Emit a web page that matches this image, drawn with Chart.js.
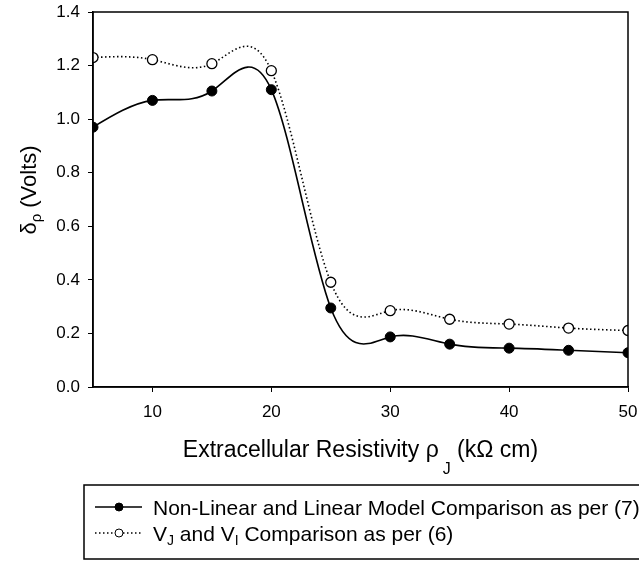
<!DOCTYPE html>
<html>
<head>
<meta charset="utf-8">
<script src="https://cdn.jsdelivr.net/npm/chart.js@4.4.0/dist/chart.umd.min.js"></script>
<style>
  html, body { margin: 0; padding: 0; background: #fff; }
  #wrap { width: 639px; height: 562px; }
</style>
</head>
<body>
<div id="wrap"><canvas id="myChart"></canvas></div>
<script>
// data
var resistivity = [5, 10, 15, 20, 25, 30, 35, 40, 45, 50];
var modelComparison = [0.97, 1.07, 1.105, 1.11, 0.295, 0.187, 0.16, 0.145, 0.137, 0.128];
var vjViComparison = [1.23, 1.222, 1.207, 1.181, 0.391, 0.285, 0.253, 0.235, 0.22, 0.211];
var xTicks = [10, 20, 30, 40, 50];
var seriesLabels = ['Non-Linear and Linear Model Comparison as per (7)', 'VJ and VI Comparison as per (6)'];

// rich text pieces (for subscripts)
var legendText = [
    [{ t: 'Non-Linear and Linear Model Comparison as per (7)' }],
    [{ t: 'V' }, { t: 'J', sub: true }, { t: ' and V' }, { t: 'I', sub: true }, { t: ' Comparison as per (6)' }]
];
var xTitle = [{ t: 'Extracellular Resistivity \u03C1' }, { t: 'J', sub: true, drop: 17, gap: 4 }, { t: ' (k\u03A9 cm)' }];
var yTitle = [{ t: '\u03B4' }, { t: '\u03C1', sub: true, drop: 5 }, { t: ' (Volts)' }];

var FONT = '"Liberation Sans", Arial, Helvetica, sans-serif';

function toPoints(xs, ys) {
    return xs.map(function (x, i) { return { x: x, y: ys[i] }; });
}

// natural cubic spline slopes (same kind of curve the original plot uses)
function splineSlopes(xs, ys) {
    var n = xs.length, h = [], M = [];
    for (var i = 0; i < n; i++) M.push(0);
    for (var i = 0; i < n - 1; i++) h.push(xs[i + 1] - xs[i]);
    var a = [], b = [], c = [], d = [];
    for (var i = 1; i < n - 1; i++) {
        a.push(h[i - 1]);
        b.push(2 * (h[i - 1] + h[i]));
        c.push(h[i]);
        d.push(6 * ((ys[i + 1] - ys[i]) / h[i] - (ys[i] - ys[i - 1]) / h[i - 1]));
    }
    var m = b.length;
    for (var i = 1; i < m; i++) {
        var w = a[i] / b[i - 1];
        b[i] -= w * c[i - 1];
        d[i] -= w * d[i - 1];
    }
    var sol = [];
    sol[m - 1] = d[m - 1] / b[m - 1];
    for (var i = m - 2; i >= 0; i--) sol[i] = (d[i] - c[i] * sol[i + 1]) / b[i];
    for (var i = 0; i < m; i++) M[i + 1] = sol[i];
    var s = [];
    for (var i = 0; i < n - 1; i++) s.push((ys[i + 1] - ys[i]) / h[i] - h[i] * (2 * M[i] + M[i + 1]) / 6);
    s.push((ys[n - 1] - ys[n - 2]) / h[n - 2] + h[n - 2] * (M[n - 2] + 2 * M[n - 1]) / 6);
    return s;
}

var splinePlugin = {
    id: 'naturalSpline',
    beforeDatasetDraw: function (chart, args) {
        var line = args.meta.dataset;
        var pts = args.meta.data;
        if (!line || pts.length < 3) return;
        line.updateControlPoints(chart.chartArea, 'x');
        var xs = pts.map(function (p) { return p.x; });
        var ys = pts.map(function (p) { return p.y; });
        var sl = splineSlopes(xs, ys);
        pts.forEach(function (p, i) {
            var hp = i > 0 ? xs[i] - xs[i - 1] : 0;
            var hn = i < pts.length - 1 ? xs[i + 1] - xs[i] : 0;
            p.cp1x = xs[i] - hp / 3;
            p.cp1y = ys[i] - sl[i] * hp / 3;
            p.cp2x = xs[i] + hn / 3;
            p.cp2y = ys[i] + sl[i] * hn / 3;
        });
    }
};

function richWidth(ctx, parts, size) {
    var w = 0;
    parts.forEach(function (p) {
        ctx.font = (p.sub ? Math.round(size * 0.68) : size) + 'px ' + FONT;
        w += ctx.measureText(p.t).width + (p.gap || 0);
    });
    return w;
}

function drawRich(ctx, parts, x, y, size) {
    ctx.textBaseline = 'alphabetic';
    ctx.textAlign = 'left';
    parts.forEach(function (p) {
        ctx.font = (p.sub ? Math.round(size * 0.68) : size) + 'px ' + FONT;
        var dy = p.sub ? (p.drop || 4) : 0;
        x += (p.gap || 0);
        ctx.fillText(p.t, x, y + dy);
        x += ctx.measureText(p.t).width;
    });
}

var decorPlugin = {
    id: 'decor',
    afterDraw: function (chart) {
        var ctx = chart.ctx, area = chart.chartArea;
        ctx.save();
        ctx.fillStyle = '#000';
        ctx.strokeStyle = '#000';

        // frame round the plot
        ctx.lineWidth = 1.5;
        ctx.strokeRect(area.left, area.top, area.right - area.left, area.bottom - area.top);

        // axis titles
        var xs = 23;
        var xw = richWidth(ctx, xTitle, xs);
        drawRich(ctx, xTitle, (area.left + area.right) / 2 - xw / 2, 457, xs);

        var ys = 22;
        var yw = richWidth(ctx, yTitle, ys);
        ctx.save();
        ctx.translate(36, 190);
        ctx.rotate(-Math.PI / 2);
        drawRich(ctx, yTitle, -yw / 2, 0, ys);
        ctx.restore();

        // legend box
        ctx.lineWidth = 1.5;
        ctx.strokeRect(84, 485, 700, 74);
        var rows = [507, 533];
        chart.data.datasets.forEach(function (ds, i) {
            var y = rows[i];
            ctx.lineWidth = ds.borderWidth;
            ctx.setLineDash(ds.borderDash || []);
            ctx.beginPath();
            ctx.moveTo(95, y);
            ctx.lineTo(142, y);
            ctx.stroke();
            ctx.setLineDash([]);
            ctx.beginPath();
            ctx.arc(119, y, 4, 0, Math.PI * 2);
            ctx.fillStyle = ds.pointBackgroundColor;
            ctx.fill();
            ctx.lineWidth = 1;
            ctx.stroke();
            ctx.fillStyle = '#000';
            drawRich(ctx, legendText[i], 153, y + 8, 21);
        });
        ctx.restore();
    }
};

function createChart() {
    var ctx = document.getElementById('myChart').getContext('2d');
    new Chart(ctx, {
        type: 'line',
        data: {
            datasets: [{
                label: seriesLabels[0],
                data: toPoints(resistivity, modelComparison),
                borderColor: '#000',
                borderWidth: 1.6,
                pointRadius: 5,
                pointBackgroundColor: '#000',
                pointBorderColor: '#000',
                pointBorderWidth: 1,
                tension: 0.4,
                fill: false
            }, {
                label: seriesLabels[1],
                data: toPoints(resistivity, vjViComparison),
                borderColor: '#000',
                borderWidth: 1.6,
                borderDash: [1.5, 2.5],
                pointRadius: 5,
                pointBackgroundColor: '#fff',
                pointBorderColor: '#000',
                pointBorderWidth: 1.3,
                tension: 0.4,
                fill: false
            }]
        },
        options: {
            responsive: true,
            maintainAspectRatio: false,
            animation: false,
            layout: { padding: { left: 0, top: 12, right: 11, bottom: 0 } },
            plugins: {
                legend: { display: false },
                tooltip: { enabled: false }
            },
            scales: {
                x: {
                    type: 'linear',
                    min: 5,
                    max: 50,
                    afterBuildTicks: function (scale) {
                        scale.ticks = xTicks.map(function (v) { return { value: v }; });
                    },
                    afterFit: function (scale) {
                        scale.height = 175;
                        scale.paddingLeft = 0;
                        scale.paddingRight = 0;
                    },
                    grid: { drawOnChartArea: false, tickLength: 5, color: '#000', lineWidth: 1 },
                    border: { display: true, color: '#000', width: 1.5 },
                    ticks: {
                        color: '#000',
                        padding: 10,
                        maxRotation: 0,
                        font: { family: FONT, size: 17 }
                    }
                },
                y: {
                    min: 0,
                    max: 1.4,
                    afterFit: function (scale) {
                        scale.width = 93;
                        scale.paddingTop = 0;
                        scale.paddingBottom = 0;
                    },
                    grid: { drawOnChartArea: false, tickLength: 5, color: '#000', lineWidth: 1 },
                    border: { display: true, color: '#000', width: 1.5 },
                    ticks: {
                        stepSize: 0.2,
                        color: '#000',
                        padding: 8,
                        font: { family: FONT, size: 17 },
                        callback: function (v) { return v.toFixed(1); }
                    }
                }
            }
        },
        plugins: [splinePlugin, decorPlugin]
    });
}

createChart();
</script>
</body>
</html>
